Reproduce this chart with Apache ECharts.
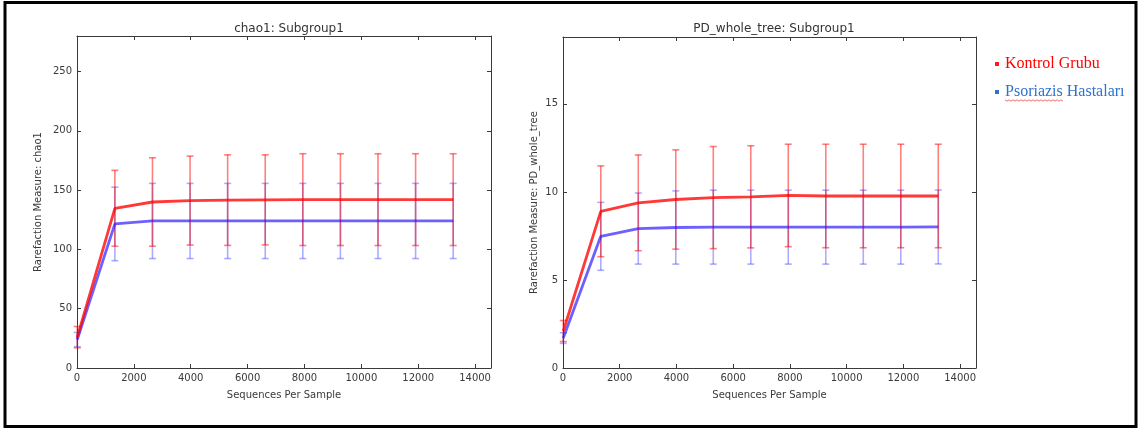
<!DOCTYPE html>
<html><head><meta charset="utf-8">
<script src="https://cdn.jsdelivr.net/npm/echarts@6/dist/echarts.min.js"></script>
<style>html,body{margin:0;padding:0;background:#fff}#c{width:1139px;height:430px}</style>
</head><body><div id="c"></div>
<script>
// ---- data ----
const seqPerSample = [10, 1332, 2654, 3976, 5298, 6620, 7942, 9264, 10586, 11908, 13230];
const seriesNames = ['Kontrol Grubu', 'Psoriazis Hastaları'];
const chaoKontrolMean = [26, 134.7, 140, 141.2, 141.6, 141.8, 142, 142, 142, 142, 142];
const chaoKontrolErr  = [9, 32, 37.3, 37.5, 38.2, 38, 38.7, 38.7, 38.7, 38.7, 38.7];
const chaoPsoMean     = [24, 121.5, 124, 124, 124, 124, 124, 124, 124, 124, 124];
const chaoPsoErr      = [6, 31, 31.7, 31.7, 31.7, 31.7, 31.7, 31.7, 31.7, 31.7, 31.7];
const pdKontrolMean   = [2.1, 8.9, 9.38, 9.57, 9.68, 9.72, 9.8, 9.77, 9.77, 9.77, 9.77];
const pdKontrolErr    = [0.6, 2.58, 2.72, 2.82, 2.9, 2.9, 2.91, 2.94, 2.94, 2.94, 2.94];
const pdPsoMean       = [1.7, 7.48, 7.92, 7.98, 8.0, 8.0, 8.0, 8.0, 8.0, 8.0, 8.01];
const pdPsoErr        = [0.3, 1.93, 2.02, 2.08, 2.1, 2.1, 2.1, 2.1, 2.1, 2.1, 2.1];
const chartTitles = ['chao1: Subgroup1', 'PD_whole_tree: Subgroup1'];
const yNames = ['Rarefaction Measure: chao1', 'Rarefaction Measure: PD_whole_tree'];
const xName = 'Sequences Per Sample';

// ---- chart ----
const chart = echarts.init(document.getElementById('c'));
const FONT = 'DejaVu Sans';
const red = 'rgba(255,0,0,0.78)', blue = 'rgba(40,20,255,0.68)';
const redErr = 'rgba(255,0,0,0.5)', blueErr = 'rgba(40,40,255,0.38)';
const grids = [
  {left: 77, top: 36, width: 414, height: 332},
  {left: 563, top: 37, width: 413, height: 331}
];
const yMax = [280, 18.8], yInt = [50, 5];
const axisLine = {show: true, onZero: false, lineStyle: {color: '#3a3a3a', width: 1}};
const tick = {show: true, inside: true, length: 4, lineStyle: {color: '#3a3a3a'}};
const lab = {color: '#3a3a3a', fontFamily: FONT, fontSize: 10};

const xAxis = [], yAxis = [];
for (let i = 0; i < 2; i++) {
  xAxis.push({type: 'value', gridIndex: i, min: 0, max: 14560, interval: 2000, position: 'bottom',
    name: xName, nameLocation: 'middle', nameGap: 22, nameTextStyle: {color: '#3a3a3a', fontFamily: FONT, fontSize: 10},
    axisLine, axisTick: tick, splitLine: {show: false},
    axisLabel: Object.assign({margin: 5, showMaxLabel: false, formatter: v => (v % 2000 === 0 ? String(v) : '')}, lab)});
  yAxis.push({type: 'value', gridIndex: i, min: 0, max: yMax[i], interval: yInt[i], position: 'left',
    name: yNames[i], nameLocation: 'middle', nameGap: i === 0 ? 34 : 24, nameRotate: 90,
    nameTextStyle: {color: '#3a3a3a', fontFamily: FONT, fontSize: 10},
    axisLine, axisTick: tick, splitLine: {show: false},
    axisLabel: Object.assign({margin: 5, showMaxLabel: false, formatter: v => (v % yInt[i] === 0 ? String(v) : '')}, lab)});
}
for (let i = 0; i < 2; i++) {
  xAxis.push({type: 'value', gridIndex: i, min: 0, max: 14560, interval: 2000, position: 'top',
    axisLine, axisTick: tick, axisLabel: {show: false}, splitLine: {show: false}});
  yAxis.push({type: 'value', gridIndex: i, min: 0, max: yMax[i], interval: yInt[i], position: 'right',
    axisLine, axisTick: tick, axisLabel: {show: false}, splitLine: {show: false}});
}

function lineData(mean) { return seqPerSample.map((x, i) => [x, mean[i]]); }
function errData(mean, err) { return seqPerSample.map((x, i) => [x, mean[i] - err[i], mean[i] + err[i]]); }
function errSeries(name, gi, mean, err, color, z) {
  return {
    name, type: 'custom', xAxisIndex: gi, yAxisIndex: gi, z, silent: true,
    data: errData(mean, err),
    renderItem(params, api) {
      const x = api.value(0);
      const lo = api.coord([x, api.value(1)]);
      const hi = api.coord([x, api.value(2)]);
      const st = {stroke: color, lineWidth: 1.6};
      return {type: 'group', children: [
        {type: 'line', shape: {x1: lo[0], y1: lo[1], x2: hi[0], y2: hi[1]}, style: st},
        {type: 'line', shape: {x1: lo[0] - 3.5, y1: lo[1], x2: lo[0] + 3.5, y2: lo[1]}, style: st},
        {type: 'line', shape: {x1: hi[0] - 3.5, y1: hi[1], x2: hi[0] + 3.5, y2: hi[1]}, style: st}
      ]};
    }
  };
}
function lineSeries(name, gi, mean, color, z) {
  return {name, type: 'line', xAxisIndex: gi, yAxisIndex: gi, z, data: lineData(mean),
    showSymbol: false, symbol: 'none', lineStyle: {color, width: 2.8}, itemStyle: {color}};
}

const series = [
  errSeries(seriesNames[1], 0, chaoPsoMean, chaoPsoErr, blueErr, 2),
  errSeries(seriesNames[0], 0, chaoKontrolMean, chaoKontrolErr, redErr, 3),
  lineSeries(seriesNames[1], 0, chaoPsoMean, blue, 4),
  lineSeries(seriesNames[0], 0, chaoKontrolMean, red, 5),
  errSeries(seriesNames[1], 1, pdPsoMean, pdPsoErr, blueErr, 2),
  errSeries(seriesNames[0], 1, pdKontrolMean, pdKontrolErr, redErr, 3),
  lineSeries(seriesNames[1], 1, pdPsoMean, blue, 4),
  lineSeries(seriesNames[0], 1, pdKontrolMean, red, 5)
];

chart.setOption({
  animation: false,
  backgroundColor: '#fff',
  title: [
    {text: chartTitles[0], left: 77 + 207, top: 18, textAlign: 'center',
     textStyle: {fontFamily: FONT, fontSize: 12, fontWeight: 'normal', color: '#333'}},
    {text: chartTitles[1], left: 563 + 206, top: 18, textAlign: 'center',
     textStyle: {fontFamily: FONT, fontSize: 12, fontWeight: 'normal', color: '#333'}}
  ],
  legend: {
    orient: 'vertical', left: 990, top: 51, itemGap: 12, itemWidth: 4, itemHeight: 4,
    selectedMode: false,
    data: [
      {name: seriesNames[0], icon: 'rect', itemStyle: {color: '#ff1a1a'}, textStyle: {color: '#ff0000'}},
      {name: seriesNames[1], icon: 'rect', itemStyle: {color: '#2e72d2'}, textStyle: {color: '#2e72d2'}}
    ],
    textStyle: {fontFamily: 'Liberation Serif', fontSize: 16, padding: [0, 0, 0, 1]}
  },
  grid: grids,
  xAxis, yAxis, series,
  graphic: [
    {type: 'rect', shape: {x: 5, y: 2.5, width: 1131, height: 424}, style: {fill: 'none', stroke: '#000', lineWidth: 3}, silent: true},
    {type: 'polyline', silent: true, shape: {points: (function(){const p=[];for(let x=1005;x<=1063;x+=2){p.push([x, 100 + ((x-1005)/2 % 2 ? 1.2 : -0.2)]);}return p;})()},
     style: {stroke: 'rgba(230,30,30,0.8)', lineWidth: 0.8, fill: 'none'}}
  ]
});
</script></body></html>
